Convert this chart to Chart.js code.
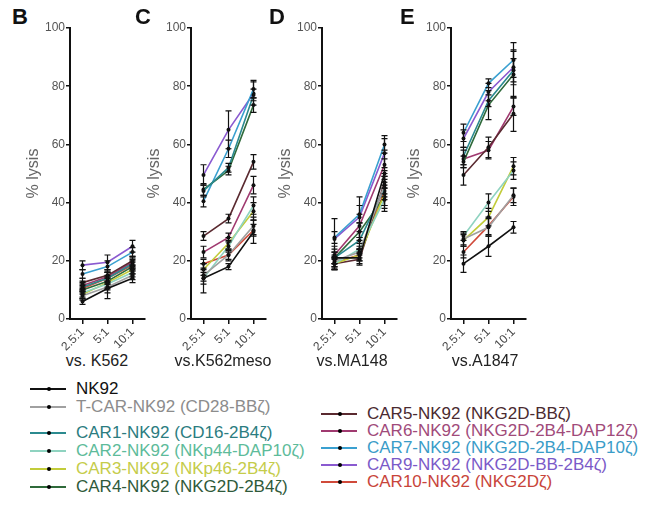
<!DOCTYPE html>
<html>
<head>
<meta charset="utf-8">
<script src="https://cdn.jsdelivr.net/npm/chart.js@4.4.1/dist/chart.umd.min.js"></script>
<style>
    body { margin: 0; background: #fff; width: 650px; height: 507px; overflow: hidden; position: relative; font-family: "Liberation Sans", Arial, sans-serif; }
    .panel { position: absolute; top: 0; }
    .tag { position: absolute; font-weight: bold; font-size: 22px; line-height: 22px; color: #111; }
    .xt { position: absolute; top: 352px; width: 140px; text-align: center; font-size: 16px; line-height: 18px; color: #222; }
    .leg { position: absolute; font-size: 17px; line-height: 18px; white-space: nowrap; }
    .leg .ln { position: absolute; height: 2px; }
    .leg .dot { position: absolute; width: 4px; height: 4px; border-radius: 2px; background: #000; }
    .leg .tx { position: absolute; top: -9px; }
</style>
</head>
<body>
<div id="root"></div>
<script>
const FONT = '"Liberation Sans", Arial, sans-serif';
const RATIOS = ['2.5:1', '5:1', '10:1'];
const Y_TICKS = [0, 20, 40, 60, 80, 100];

const SERIES = ['NK92', 'T-CAR-NK92 (CD28-BBζ)', 'CAR1-NK92 (CD16-2B4ζ)', 'CAR2-NK92 (NKp44-DAP10ζ)',
    'CAR3-NK92 (NKp46-2B4ζ)', 'CAR4-NK92 (NKG2D-2B4ζ)', 'CAR5-NK92 (NKG2D-BBζ)', 'CAR6-NK92 (NKG2D-2B4-DAP12ζ)',
    'CAR7-NK92 (NKG2D-2B4-DAP10ζ)', 'CAR9-NK92 (NKG2D-BB-2B4ζ)', 'CAR10-NK92 (NKG2Dζ)'];
const LINE_COLORS = ['#111111', '#a0a0a0', '#2b8a8f', '#8fd3c0', '#c2cc3a', '#2f6a3a', '#5a2a30', '#a03a70', '#3aa0d0', '#8a5ad0', '#d04a3a'];
const TEXT_COLORS = ['#111111', '#8c8c8c', '#2b7c80', '#5dbb9a', '#c5cc4a', '#2f5a3a', '#4a2a30', '#a04a7a', '#3a9cc8', '#7a5ac8', '#c8443a'];

// % lysis per series, ratios 2.5:1, 5:1, 10:1
const k562Values = [[6, 10.5, 14], [8, 11, 15], [11, 14, 19], [9, 12, 16], [8.5, 12.5, 17], [10, 13, 18],
    [12.5, 15, 20], [11.5, 14.5, 19.5], [15.5, 18, 23], [18.5, 19.5, 25], [10.5, 14, 18.5]];
const k562Errors = [[1, 3.5, 1.5], [1.5, 2, 1.5], [1.5, 2, 1.5], [1.5, 2, 1.5], [1.5, 2, 1.5], [1.5, 2, 1.5],
    [1.5, 2, 1.5], [1.5, 2, 1.5], [1.5, 2, 1.5], [1.5, 2.5, 2], [1.5, 2, 1.5]];

const mesoValues = [[14, 18, 30], [15, 22, 32], [44, 52, 77], [14, 25, 39], [17, 26, 37], [44.5, 51, 73.5],
    [28.5, 34.5, 54], [23, 28, 46], [40.5, 58.5, 79], [49.5, 65, 77.5], [19, 22, 30.5]];
const mesoErrors = [[5, 1, 4], [2, 2, 3], [2, 1.5, 2], [2, 2, 3], [2, 2, 3], [2, 1.5, 2.5],
    [1.5, 1.5, 2.5], [2, 1.5, 3], [2, 3, 3], [3.5, 6.5, 4], [1.5, 1.5, 2]];

const ma148Values = [[21, 21, 50], [20, 23, 46], [21, 27, 45], [19, 24, 41], [19, 22, 43], [21, 30, 42],
    [19, 20.5, 47], [22, 32, 53], [28, 36, 60], [27.5, 35, 57], [19.5, 22, 44]];
const ma148Errors = [[3, 2, 5], [2, 2, 4], [2, 3, 4], [2, 2, 4], [2, 2, 4], [2, 3, 4],
    [2, 2, 4], [3, 4, 5], [2, 3, 3], [7, 7, 5], [2, 2, 5]];

const a1847Values = [[19, 25, 31.5], [27.5, 31.5, 42.5], [56, 75, 85.5], [28.5, 40, 51], [27, 35, 52.5], [54, 73.5, 84],
    [49.5, 59, 70.5], [55, 58, 73], [64, 81, 89], [62, 78, 86.5], [23, 32, 42]];
const a1847Errors = [[3, 3.5, 2], [2, 3, 2.5], [3, 2, 4], [1.5, 3, 3], [2, 3, 3], [2, 5, 8],
    [3.5, 3.5, 6], [3, 3, 3], [3, 1.5, 6], [3, 3, 6], [2, 3, 3]];

const PANELS = [
    { tag: 'B', tagX: 12, axisX: 70, title: 'vs. K562', titleX: 97, values: k562Values, errors: k562Errors },
    { tag: 'C', tagX: 135, axisX: 191, title: 'vs.K562meso', titleX: 223, values: mesoValues, errors: mesoErrors },
    { tag: 'D', tagX: 269, axisX: 322, title: 'vs.MA148', titleX: 352, values: ma148Values, errors: ma148Errors },
    { tag: 'E', tagX: 400, axisX: 451, title: 'vs.A1847', titleX: 485, values: a1847Values, errors: a1847Errors }
];

const errorBars = {
    id: 'errorBars',
    afterDatasetsDraw(chart) {
        const ctx = chart.ctx;
        const y = chart.scales.y;
        ctx.save();
        ctx.strokeStyle = '#111';
        ctx.lineWidth = 1.2;
        chart.data.datasets.forEach((ds, di) => {
            const meta = chart.getDatasetMeta(di);
            meta.data.forEach((pt, i) => {
                const e = ds.errors[i];
                const top = y.getPixelForValue(ds.data[i] + e);
                const bot = y.getPixelForValue(ds.data[i] - e);
                ctx.beginPath();
                ctx.moveTo(pt.x, top); ctx.lineTo(pt.x, bot);
                ctx.moveTo(pt.x - 3, top); ctx.lineTo(pt.x + 3, top);
                ctx.moveTo(pt.x - 3, bot); ctx.lineTo(pt.x + 3, bot);
                ctx.stroke();
            });
        });
        ctx.restore();
    }
};

const root = document.getElementById('root');

PANELS.forEach(p => {
    const tag = document.createElement('div');
    tag.className = 'tag';
    tag.style.left = p.tagX + 'px';
    tag.style.top = '6px';
    tag.textContent = p.tag;
    root.appendChild(tag);

    const xt = document.createElement('div');
    xt.className = 'xt';
    xt.style.left = (p.titleX - 70) + 'px';
    xt.textContent = p.title;
    root.appendChild(xt);

    const wrap = document.createElement('div');
    wrap.className = 'panel';
    wrap.style.left = (p.axisX - 50) + 'px';
    wrap.style.width = '140px';
    wrap.style.height = '372px';
    const cv = document.createElement('canvas');
    wrap.appendChild(cv);
    root.appendChild(wrap);

    new Chart(cv, {
        type: 'line',
        data: {
            labels: RATIOS,
            datasets: p.values.map((v, i) => ({
                label: SERIES[i],
                data: v,
                errors: p.errors[i],
                borderColor: LINE_COLORS[i],
                borderWidth: 1.6,
                pointRadius: 2,
                pointBackgroundColor: '#111',
                pointBorderWidth: 0,
                tension: 0
            }))
        },
        options: {
            responsive: true,
            maintainAspectRatio: false,
            animation: false,
            layout: { padding: { top: 28, left: 0, right: 15, bottom: 0 } },
            plugins: { legend: { display: false }, tooltip: { enabled: false } },
            scales: {
                x: {
                    offset: true,
                    afterFit: s => { s.height = 53; },
                    border: { color: '#111', width: 2 },
                    grid: { offset: false, drawOnChartArea: false, color: '#111', lineWidth: 1.5, tickLength: 5 },
                    ticks: { minRotation: 45, maxRotation: 45, color: '#444', padding: 1, font: { family: FONT, size: 12 } }
                },
                y: {
                    min: 0,
                    max: 100,
                    afterFit: s => { s.width = 50; },
                    afterBuildTicks: s => { s.ticks = Y_TICKS.map(v => ({ value: v })); },
                    border: { color: '#111', width: 2 },
                    grid: { drawOnChartArea: false, color: '#111', lineWidth: 1.5, tickLength: 4 },
                    ticks: { color: '#555', padding: 1, font: { family: FONT, size: 12 } },
                    title: { display: true, text: '% lysis', color: '#666', padding: { top: 4, bottom: 0 }, font: { family: FONT, size: 16 } }
                }
            }
        },
        plugins: [errorBars]
    });
});

// legend: two columns
const LEFT_ROWS = [389, 407, 433, 451, 469, 487];
const RIGHT_ROWS = [414, 431, 448, 465, 482];
SERIES.forEach((name, i) => {
    const left = i < 6;
    const rowY = left ? LEFT_ROWS[i] : RIGHT_ROWS[i - 6];
    const x0 = left ? 30 : 321;
    const item = document.createElement('div');
    item.className = 'leg';
    item.style.left = x0 + 'px';
    item.style.top = rowY + 'px';
    item.innerHTML = '<div class="ln" style="left:0;top:-1px;width:36px;background:' + LINE_COLORS[i] + '"></div>' +
        '<div class="dot" style="left:17px;top:-2px"></div>' +
        '<div class="tx" style="left:' + 46 + 'px;color:' + TEXT_COLORS[i] + '"></div>';
    item.querySelector('.tx').textContent = name;
    root.appendChild(item);
});
</script>
</body>
</html>
